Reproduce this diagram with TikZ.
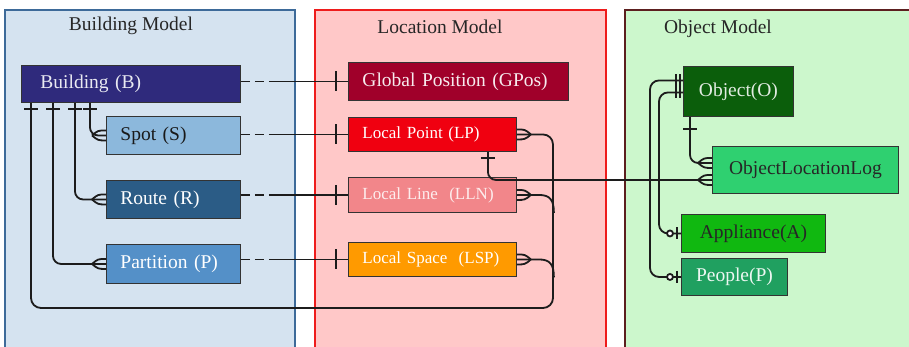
\documentclass[tikz,border=0pt]{standalone}
\usepackage{fontspec}
\setmainfont{Liberation Serif}
\usetikzlibrary{calc}
\definecolor{pBfill}{HTML}{D5E3F0}
\definecolor{pBline}{HTML}{3D6A99}
\definecolor{pLfill}{HTML}{FFC8C8}
\definecolor{pLline}{HTML}{EE1C1C}
\definecolor{pOfill}{HTML}{CCF7CC}
\definecolor{pOline}{HTML}{5C1F1F}
\definecolor{linec}{HTML}{1C1C1C}
\definecolor{boxline}{HTML}{333333}
\definecolor{cB}{HTML}{2F2A7C}
\definecolor{cS}{HTML}{8CB8DC}
\definecolor{cR}{HTML}{2B5C86}
\definecolor{cP}{HTML}{5490C8}
\definecolor{cG}{HTML}{A0002A}
\definecolor{cLP}{HTML}{F00010}
\definecolor{cLLN}{HTML}{F2868A}
\definecolor{cLSP}{HTML}{FF9A00}
\definecolor{cO}{HTML}{0B5E0B}
\definecolor{cOLL}{HTML}{2FD070}
\definecolor{cA}{HTML}{10B810}
\definecolor{cPe}{HTML}{20A060}
\tikzset{
  conn/.style={draw=linec, line width=1.8pt},
  ent/.style={draw=boxline, line width=0.9pt, rectangle, anchor=north west, inner ysep=0pt, font=\fontsize{19.5}{22}\selectfont},
  lent/.style={ent, align=left, inner xsep=14pt},
  cent/.style={ent, align=center, inner xsep=0pt},
  small/.style={font=\fontsize{17}{20}\selectfont},
  title/.style={font=\fontsize{19.5}{22}\selectfont, text=black!85},
  crowfoot/.pic={\draw[conn] (0,-5) .. controls (8,-5) .. (14,0) (0,5) .. controls (8,5) .. (14,0);},
  vtick/.pic={\draw[conn] (0,-10) -- (0,10);},
  vtickS/.pic={\draw[conn] (0,-6) -- (0,6);},
  htick/.pic={\draw[conn] (-7,0) -- (7,0);},
  zeroone/.pic={\draw[conn] (-4,-6) -- (-4,6); \draw[conn, fill=white] (-11,0) circle (3);}
}
\begin{document}
\begin{tikzpicture}[x=1pt,y=-1pt]
\useasboundingbox (0,0) rectangle (909,347);
\clip (0,0) rectangle (909,347);
\fill[white] (0,0) rectangle (909,347);
% panels
\draw[fill=pBfill, draw=pBline, line width=2.4pt] (5,10) rectangle (295,370);
\draw[fill=pLfill, draw=pLline, line width=2.4pt] (315,10) rectangle (606,370);
\draw[fill=pOfill, draw=pOline, line width=2.4pt] (625,10) rectangle (930,370);
\node[title] (tB) at (131,26) {Building Model};
\node[title] (tL) at (440,27) {Location Model};
\node[title] (tO) at (718,29) {Object Model};
% building model
\node[ent, align=left, inner xsep=19pt, fill=cB, text=white!90!cB, minimum width=219pt, minimum height=37pt, text width=181pt] (B) at (21,65) {Building (B)};
\node[lent, fill=cS, text=black!90, minimum width=134pt, minimum height=38pt, text width=106pt] (S) at (106,116) {Spot (S)};
\node[lent, fill=cR, text=white, minimum width=134pt, minimum height=38pt, text width=106pt] (R) at (106,180) {Route (R)};
\node[lent, fill=cP, text=white, minimum width=134pt, minimum height=39pt, text width=106pt] (P) at (106,244) {Partition (P)};
% location model
\node[lent, fill=cG, text=white!92!cG, minimum width=220pt, minimum height=38pt, text width=192pt] (G) at (348,62) {Global Position (GPos)};
\node[lent, small, fill=cLP, text=white, minimum width=168pt, minimum height=34pt, text width=140pt] (LP) at (348,117) {Local Point (LP)};
\node[lent, small, fill=cLLN, text=white!85!cLLN, minimum width=168pt, minimum height=35pt, text width=140pt] (LLN) at (348,177) {Local Line\ \ (LLN)};
\node[lent, small, fill=cLSP, text=white, minimum width=168pt, minimum height=34pt, text width=140pt] (LSP) at (348,242) {Local Space\ \ (LSP)};
% object model
\node[cent, fill=cO, text=white!88!cO, minimum width=110pt, minimum height=50pt] (O) at (683,66) {Object(O)};
\node[cent, fill=cOLL, text=black!85, minimum width=186pt, minimum height=47pt] (OLL) at (712,146) {ObjectLocationLog};
\node[cent, fill=cA, text=black!85, minimum width=144pt, minimum height=38pt] (A) at (681,214) {Appliance(A)};
\node[cent, fill=cPe, text=white!92!cPe, minimum width=106pt, minimum height=37pt] (Pe) at (681,258) {People(P)};
% building internal connectors
\draw[conn, rounded corners=8pt] ($(B.south west)+(69,0)$) |- (S.west);
\draw[conn, rounded corners=8pt] ($(B.south west)+(54,0)$) |- (R.west);
\draw[conn, rounded corners=8pt] ($(B.south west)+(32,0)$) |- (P.west);
\coordinate (bus) at (553,308);
\draw[conn, rounded corners=10pt] ($(B.south west)+(10,0)$) |- (bus) |- (LP.east);
\draw[conn] (LLN.east) -- ++(22,0) .. controls ($(LLN.east)+(33,0)$) and ($(LLN.east)+(37,5)$) .. ($(LLN.east)+(37,18)$);
\draw[conn] (LSP.east) -- ++(22,0) .. controls ($(LSP.east)+(33,0)$) and ($(LSP.east)+(37,5)$) .. ($(LSP.east)+(37,18)$);
\foreach \dx in {10,32,54,69} {\pic at ($(B.south west)+(\dx,6)$) {htick};}
\pic[xscale=-1] at (S.west) {crowfoot};
\pic[xscale=-1] at (R.west) {crowfoot};
\pic[xscale=-1] at (P.west) {crowfoot};
\pic at (LP.east) {crowfoot};
\pic at (LLN.east) {crowfoot};
\pic at (LSP.east) {crowfoot};
% dashed building-location links
\draw[conn, dash pattern=on 9pt off 5pt] (B.east |- G.west) -- ++(29,0);
\draw[conn] ($(B.east |- G.west)+(29,0)$) -- (G.west);
\draw[conn, dash pattern=on 9pt off 5pt] (S.east |- LP.west) -- ++(29,0);
\draw[conn] ($(S.east |- LP.west)+(29,0)$) -- (LP.west);
\draw[conn, dash pattern=on 9pt off 5pt] (R.east |- LLN.west) -- ++(29,0);
\draw[conn] ($(R.east |- LLN.west)+(29,0)$) -- (LLN.west);
\draw[conn, dash pattern=on 9pt off 5pt] (P.east |- LSP.west) -- ++(29,0);
\draw[conn] ($(P.east |- LSP.west)+(29,0)$) -- (LSP.west);
\pic at ($(G.west)+(-12,0)$) {vtick};
\pic at ($(LP.west)+(-12,0)$) {vtick};
\pic at ($(LLN.west)+(-12,0)$) {vtick};
\pic at ($(LSP.west)+(-12,0)$) {vtick};
% location - object log
\draw[conn, rounded corners=8pt] ($(LP.south east)+(-29,0)$) |- ($(OLL.west)+(0,10)$);
\pic at ($(LP.south east)+(-29,6)$) {htick};
\draw[conn, rounded corners=8pt] ($(O.south west)+(7,0)$) |- ($(OLL.west)+(0,-7)$);
\pic at ($(O.south west)+(7,12)$) {htick};
\pic[xscale=-1] at ($(OLL.west)+(0,-7)$) {crowfoot};
\pic[xscale=-1] at ($(OLL.west)+(0,10)$) {crowfoot};
% object - appliance / people
\coordinate (oL1) at (650,200);
\coordinate (oL2) at (659,200);
\draw[conn, rounded corners=9pt] ($(O.west)+(0,-11)$) -| (oL1) |- (Pe.west);
\draw[conn, rounded corners=9pt] ($(O.west)+(0,1)$) -| (oL2) |- (A.west);
\pic at ($(O.west)+(-7,-11)$) {vtickS};
\pic at ($(O.west)+(-3,-11)$) {vtickS};
\pic at ($(O.west)+(-7,1)$) {vtickS};
\pic at ($(O.west)+(-3,1)$) {vtickS};
\pic at (A.west) {zeroone};
\pic at (Pe.west) {zeroone};
\end{tikzpicture}
\end{document}
